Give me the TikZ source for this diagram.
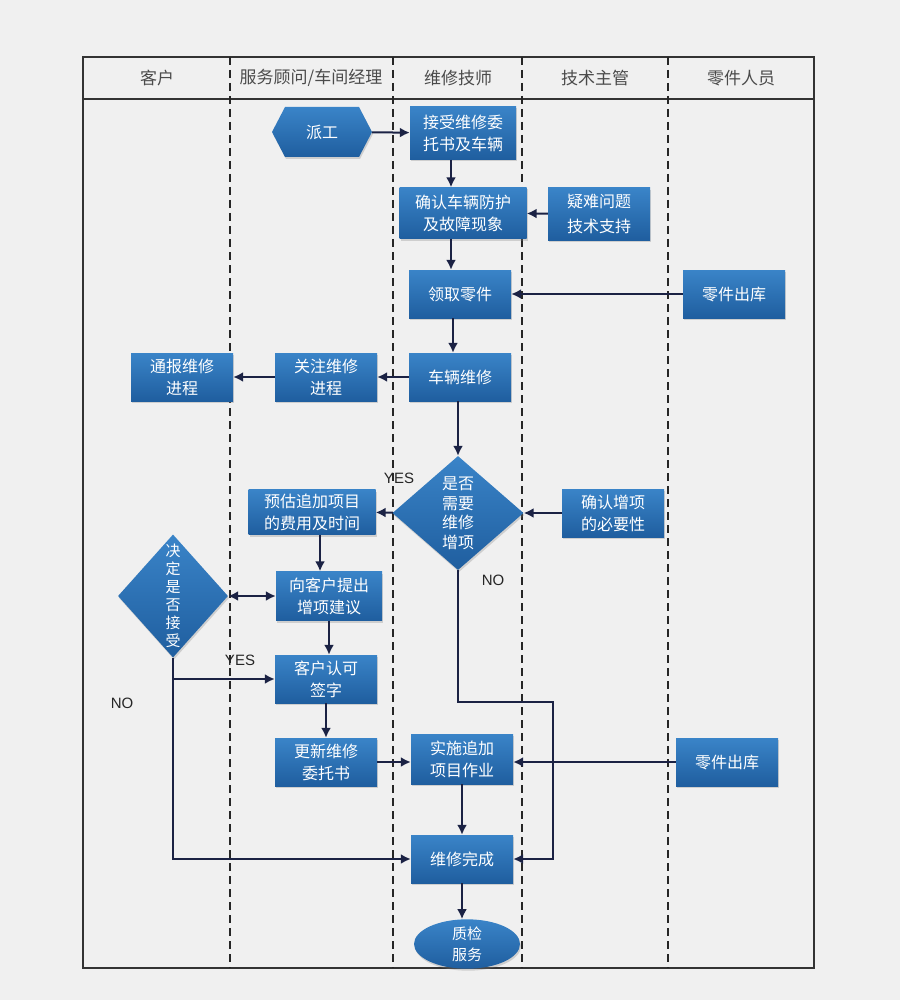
\documentclass[tikz,border=0pt]{standalone}
\usepackage{fontspec}
\setsansfont{Liberation Sans}
\newfontfamily\cjk{Noto Sans CJK SC}
\usetikzlibrary{arrows.meta,shapes.geometric,shapes.symbols,shadows}

\definecolor{bgc}{HTML}{F0F0F0}
\definecolor{boxtop}{HTML}{3A84C8}
\definecolor{boxbot}{HTML}{1F5E9F}
\definecolor{lnc}{HTML}{1B2244}
\definecolor{hdrc}{HTML}{4A4A4A}

\tikzset{
  box/.style={rectangle, top color=boxtop, bottom color=boxbot, text=white,
    font=\cjk\fontsize{16}{22}\selectfont, align=center,
    minimum width=102pt, minimum height=48pt, inner sep=0pt,
    drop shadow={opacity=0.3, shadow xshift=1pt, shadow yshift=-2pt}},
  hexa/.style={box, signal, signal to=east and west, signal pointer angle=125,
    minimum width=100pt, minimum height=50pt},
  dia/.style={box, diamond, font=\cjk\fontsize{16}{19.5}\selectfont},
  oval/.style={box, ellipse, minimum width=106pt, minimum height=48pt,
    font=\cjk\fontsize{15}{21}\selectfont},
  hdr/.style={text=hdrc, font=\cjk\fontsize{17}{20}\selectfont},
  lbl/.style={text=black!85, font=\sffamily\fontsize{15}{18}\selectfont},
  lane/.style={dash pattern=on 8pt off 5pt, line width=1.4pt, black!85},
  frame/.style={line width=1.5pt, black!80},
  link/.style={lnc, line width=2pt}
}

\begin{document}
\begin{tikzpicture}[x=1pt, y=-1pt, >={Latex[length=10pt,width=10pt]}]
  \fill[bgc] (0,0) rectangle (900,1000);
  \useasboundingbox (0,0) rectangle (900,1000);

  % lanes and header
  \draw[frame] (83,57) rectangle (814,968);
  \draw[frame] (83,99) -- (814,99);
  \foreach \x in {230,393,522,668}
    \draw[lane] (\x,57) -- (\x,968);

  \node[hdr] (hkh) at (157,78) {客户};
  \node[hdr] (hfw) at (311,78) {服务顾问/车间经理};
  \node[hdr] (hjs) at (458,78) {维修技师};
  \node[hdr] (hzg) at (595,78) {技术主管};
  \node[hdr] (hlj) at (741,78) {零件人员};

  % boxes
  \node[hexa] (pg) at (322,132) {派工};
  \node[box, minimum width=106pt, minimum height=53pt] (jswt) at (463,133) {接受维修委\\托书及车辆};
  \node[box, minimum width=127pt, minimum height=51pt] (qrfh) at (463,213) {确认车辆防护\\及故障现象};
  \node[box, minimum height=52pt, font=\cjk\fontsize{16}{25}\selectfont] (yn) at (599,214) {疑难问题\\技术支持};
  \node[box] (lqlj) at (460,294) {领取零件};
  \node[box] (ljck1) at (734,294) {零件出库};
  \node[box] (clwx) at (460,377) {车辆维修};
  \node[box] (gzjc) at (326,377) {关注维修\\进程};
  \node[box] (tbjc) at (182,377) {通报维修\\进程};

  \node[dia, aspect=1.15, minimum width=131pt, minimum height=114pt] (sfzx) at (458,513) {是否\\需要\\维修\\增项};
  \node[box, minimum width=127pt, minimum height=45pt] (ygfy) at (312,512) {预估追加项目\\的费用及时间};
  \node[box] (qrbx) at (613,513) {确认增项\\的必要性};
  \node[dia, aspect=0.9, minimum width=110pt, minimum height=123pt,
    font=\cjk\fontsize{15}{18}\selectfont] (jdjs) at (173,596) {决\\定\\是\\否\\接\\受};
  \node[box, minimum width=106pt, minimum height=49pt] (tcjy) at (329,596) {向客户提出\\增项建议};
  \node[box] (kh) at (326,679) {客户认可\\签字};
  \node[box] (gxwt) at (326,762) {更新维修\\委托书};
  \node[box, minimum height=50pt] (sszy) at (462,759) {实施追加\\项目作业};
  \node[box] (ljck2) at (727,762) {零件出库};
  \node[box] (wxwc) at (462,859) {维修完成};
  \node[oval] (zjfw) at (467,944) {质检\\服务};

  \node[lbl] (yes1) at (399,478) {YES};
  \node[lbl] (no1) at (493,580) {NO};
  \node[lbl] (yes2) at (240,660) {YES};
  \node[lbl] (no2) at (122,703) {NO};
  \coordinate (nob) at (553,702);

  % connectors
  \draw[link, ->] (pg) -- (jswt);
  \draw[link, ->] ([xshift=-12pt]jswt.south) -- ([xshift=-12pt]jswt.south |- qrfh.north);
  \draw[link, ->] ([xshift=-12pt]qrfh.south) -- ([xshift=-12pt]qrfh.south |- lqlj.north);
  \draw[link, ->] (yn) -- (qrfh);
  \draw[link, ->] (ljck1) -- (lqlj);
  \draw[link, ->] ([xshift=-7pt]lqlj.south) -- ([xshift=-7pt]lqlj.south |- clwx.north);
  \draw[link, ->] (clwx) -- (gzjc);
  \draw[link, ->] (gzjc) -- (tbjc);
  \draw[link, ->] (sfzx.north |- clwx.south) -- (sfzx.north);
  \draw[link, ->] (sfzx) -- (ygfy);
  \draw[link, ->] (qrbx) -- (sfzx);
  \draw[link, ->] ([xshift=8pt]ygfy.south) -- ([xshift=8pt]ygfy.south |- tcjy.north);
  \draw[link, <->] (jdjs) -- (tcjy);
  \draw[link, ->] (tcjy.south) -- (tcjy.south |- kh.north);
  \draw[link, ->] (jdjs.south) |- (kh.west);
  \draw[link, ->] (jdjs.south) |- (wxwc.west);
  \draw[link, ->] (kh) -- (gxwt);
  \draw[link, ->] (gxwt) -- (sszy.west |- gxwt.east);
  \draw[link, ->] (ljck2) -- (sszy.east |- ljck2.west);
  \draw[link, ->] (sszy) -- (wxwc);
  \draw[link, ->] (sfzx.south) |- (nob) |- (wxwc.east);
  \draw[link, ->] (wxwc.south) -- (wxwc.south |- zjfw.north);
\end{tikzpicture}
\end{document}
